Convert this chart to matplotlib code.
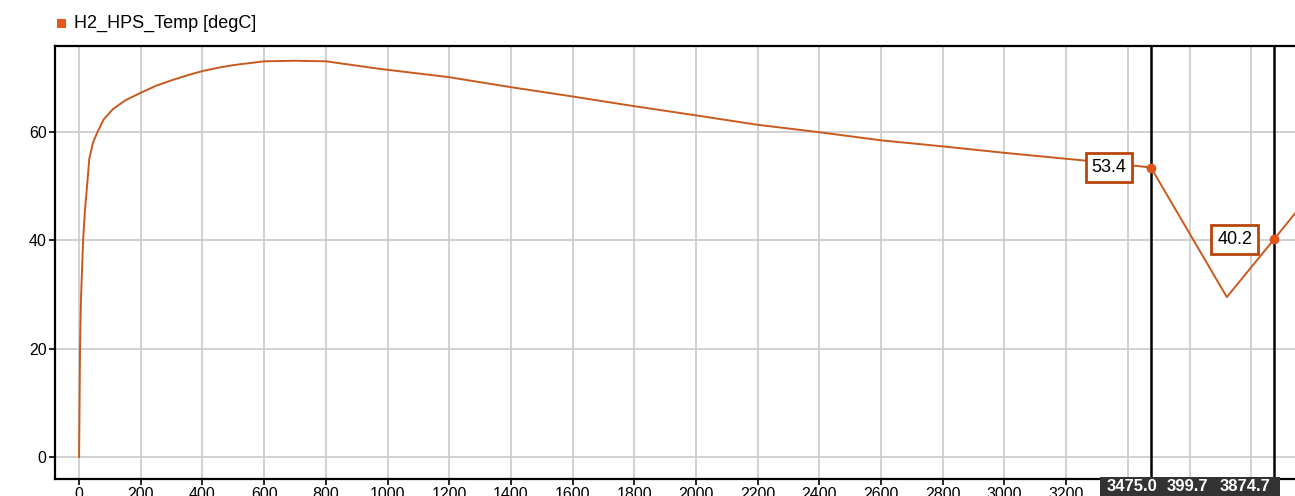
import matplotlib.pyplot as plt
from matplotlib.patches import Rectangle

plt.rcParams['font.family'] = ['Liberation Sans', 'DejaVu Sans']

# H2_HPS_Temp trace
time = [0, 3, 6, 13, 19, 27, 33, 45, 60, 80, 110, 150, 200, 250, 300, 350, 400,
        450, 500, 600, 700, 800, 975, 1196, 1403, 1601, 1802, 2003, 2198, 2402,
        2603, 2801, 3002, 3203, 3350, 3475, 3721, 3874.7, 3960]
temp = [0, 20, 29, 40, 45.5, 50.8, 55.0, 58.0, 60.0, 62.3, 64.2, 65.8, 67.2,
        68.5, 69.5, 70.4, 71.2, 71.8, 72.3, 73.0, 73.1, 73.0, 71.6, 70.1, 68.2,
        66.5, 64.7, 63.0, 61.3, 59.9, 58.4, 57.3, 56.1, 55.0, 54.2, 53.4, 29.5,
        40.2, 46.2]

cursor_x = [3475.0, 3874.7]
cursor_y = [53.4, 40.2]
cursor_labels = ['53.4', '40.2']
label_offset = [-136, -128]   # box centre left of the cursor, in data units

xticks = list(range(0, 4000, 200))
yticks = [0, 20, 40, 60]

line_col = '#c85a1e'
box_col = '#b8460e'

fig = plt.figure(figsize=(12.95, 4.96), dpi=100)
ax = fig.add_axes([0.0425, 0.0343, 0.9575, 0.8727])

ax.plot(time, temp, color=line_col, lw=1.4, zorder=3)
ax.set_xlim(-78, 3942)
ax.set_ylim(-4.06, 75.8)
ax.set_xticks(xticks)
ax.set_yticks(yticks)
ax.grid(True, color='#c9c9c9', lw=1.2)
ax.set_axisbelow(True)
ax.tick_params(labelsize=11.5, length=4, width=1.2, colors='black', pad=2)
for side in ['left', 'bottom', 'top']:
    ax.spines[side].set_linewidth(1.6)
ax.spines['right'].set_visible(False)

# cursors with value boxes
for cx, cy, lab, off in zip(cursor_x, cursor_y, cursor_labels, label_offset):
    ax.axvline(cx, color='black', lw=1.8, zorder=4)
    ax.plot(cx, cy, 'o', color='#e0561a', ms=6, zorder=5)
    ax.text(cx + off, cy, lab, fontsize=13, ha='center', va='center', zorder=6,
            bbox=dict(boxstyle='square,pad=0.33', fc='white', ec=box_col, lw=2))

# cursor readout on the x axis
ax.add_patch(Rectangle((0.843, -0.04), 0.145, 0.045, transform=ax.transAxes,
                       fc='#333333', ec='none', clip_on=False, zorder=7))
readout = ['3475.0', '399.7', '3874.7']
read_x = [0.8685, 0.913, 0.9597]
for rx, rt in zip(read_x, readout):
    ax.text(rx, -0.018, rt, transform=ax.transAxes, color='white', fontsize=12,
            fontweight='bold', ha='center', va='center', zorder=8, clip_on=False)

# legend entry above the plot
fig.patches.append(Rectangle((57 / 1295, 1 - 28 / 496), 9 / 1295, 9 / 496,
                             transform=fig.transFigure, fc='#e8561a', ec='none'))
fig.text(74 / 1295, 1 - 23 / 496, 'H2_HPS_Temp [degC]', fontsize=13,
         ha='left', va='center')

fig.savefig('out.png', dpi=100, facecolor='white')
